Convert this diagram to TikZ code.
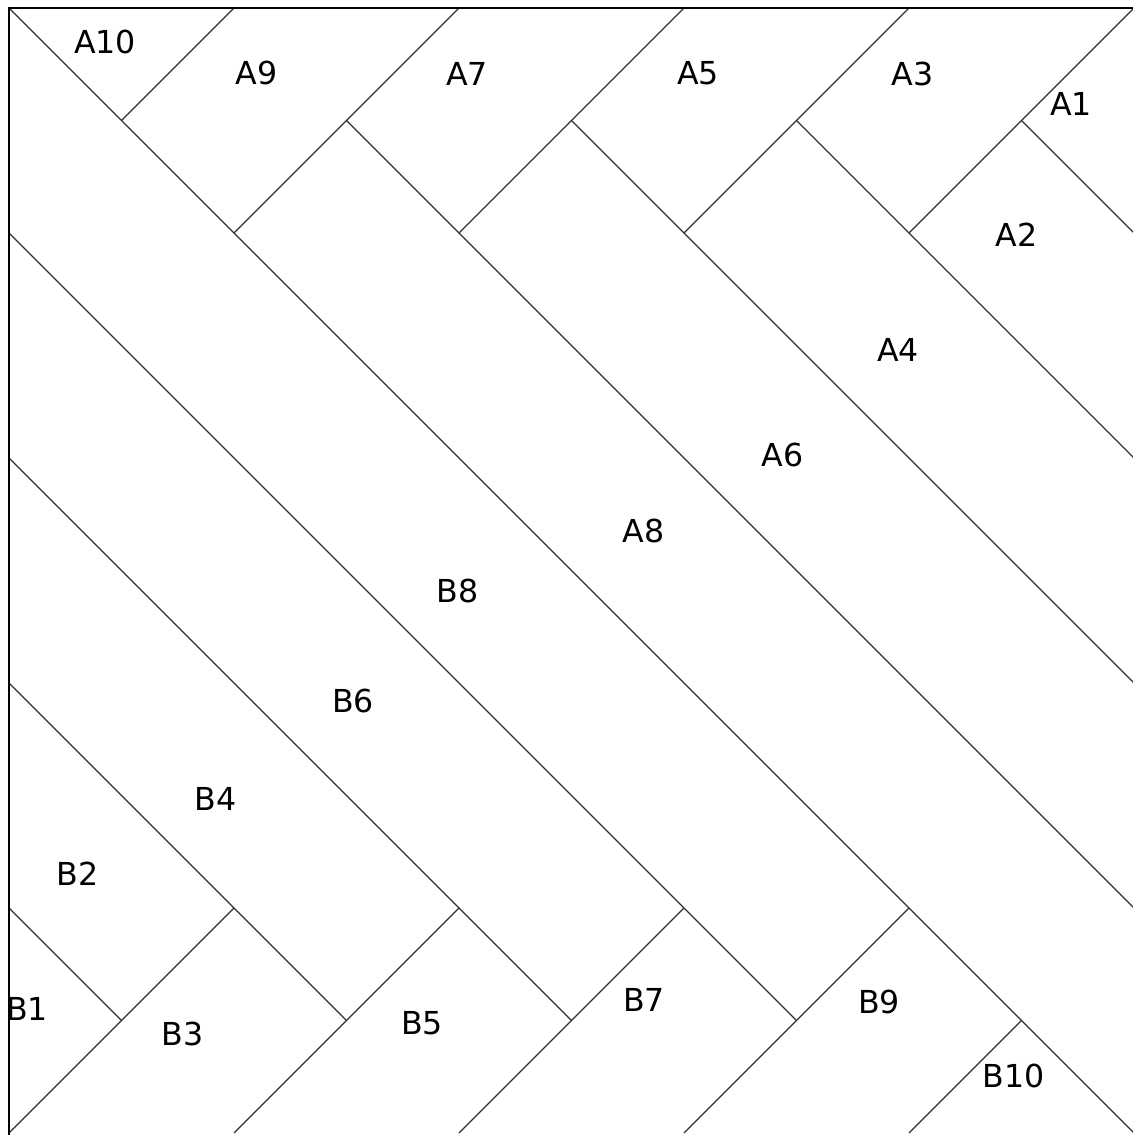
\documentclass[tikz,border=0pt]{standalone}
\usepackage{fontspec}
\setsansfont{DejaVu Sans}
\definecolor{ink}{HTML}{000000}
\definecolor{seam}{HTML}{303030}

\begin{document}
\begin{tikzpicture}[x=1cm,y=-1cm,font=\sffamily\fontsize{8}{10}\selectfont,
  seam/.style={draw=seam,line width=0.35pt},
  frame/.style={draw=ink,line width=0.6pt},
  board/.style={text=ink,inner sep=0pt}]
  \useasboundingbox (-0.08,-0.071) rectangle (9.991,10.018);
  \clip (-0.08,-0.071) rectangle (9.991,10.018);

  % Boards running down to the right.
  \draw[seam] (0,0) -- (10,10);
  \draw[seam] (0,2) -- (7,9);
  \draw[seam] (0,4) -- (5,9);
  \draw[seam] (0,6) -- (3,9);
  \draw[seam] (0,8) -- (1,9);
  \draw[seam] (3,1) -- (10,8);
  \draw[seam] (5,1) -- (10,6);
  \draw[seam] (7,1) -- (10,4);
  \draw[seam] (9,1) -- (10,2);

  % Boards running up to the right, top row.
  \draw[seam] (1,1) -- (2,0);
  \draw[seam] (2,2) -- (4,0);
  \draw[seam] (4,2) -- (6,0);
  \draw[seam] (6,2) -- (8,0);
  \draw[seam] (8,2) -- (10,0);

  % Boards running up to the right, bottom row.
  \draw[seam] (0,10) -- (2,8);
  \draw[seam] (2,10) -- (4,8);
  \draw[seam] (4,10) -- (6,8);
  \draw[seam] (6,10) -- (8,8);
  \draw[seam] (8,10) -- (9,9);

  % Outer edge, left and top only.
  \draw[frame] (0,10.1) -- (0,0) -- (10.1,0);

  % Board names.
  \node[board] (a10) at (0.853,0.298) {A10};
  \node[board] (a9) at (2.200,0.582) {A9};
  \node[board] (a7) at (4.071,0.582) {A7};
  \node[board] (a5) at (6.124,0.578) {A5};
  \node[board] (a3) at (8.031,0.587) {A3};
  \node[board] (a1) at (9.440,0.849) {A1};
  \node[board] (a2) at (8.956,2.018) {A2};
  \node[board] (a4) at (7.902,3.044) {A4};
  \node[board] (a6) at (6.876,3.973) {A6};
  \node[board] (a8) at (5.640,4.653) {A8};

  \node[board] (b8) at (3.987,5.178) {B8};
  \node[board] (b6) at (3.058,6.164) {B6};
  \node[board] (b4) at (1.836,7.027) {B4};
  \node[board] (b2) at (0.609,7.693) {B2};
  \node[board] (b1) at (0.160,8.898) {B1};
  \node[board] (b3) at (1.542,9.116) {B3};
  \node[board] (b5) at (3.671,9.027) {B5};
  \node[board] (b7) at (5.644,8.818) {B7};
  \node[board] (b9) at (7.733,8.836) {B9};
  \node[board] (b10) at (8.933,9.493) {B10};
\end{tikzpicture}
\end{document}
